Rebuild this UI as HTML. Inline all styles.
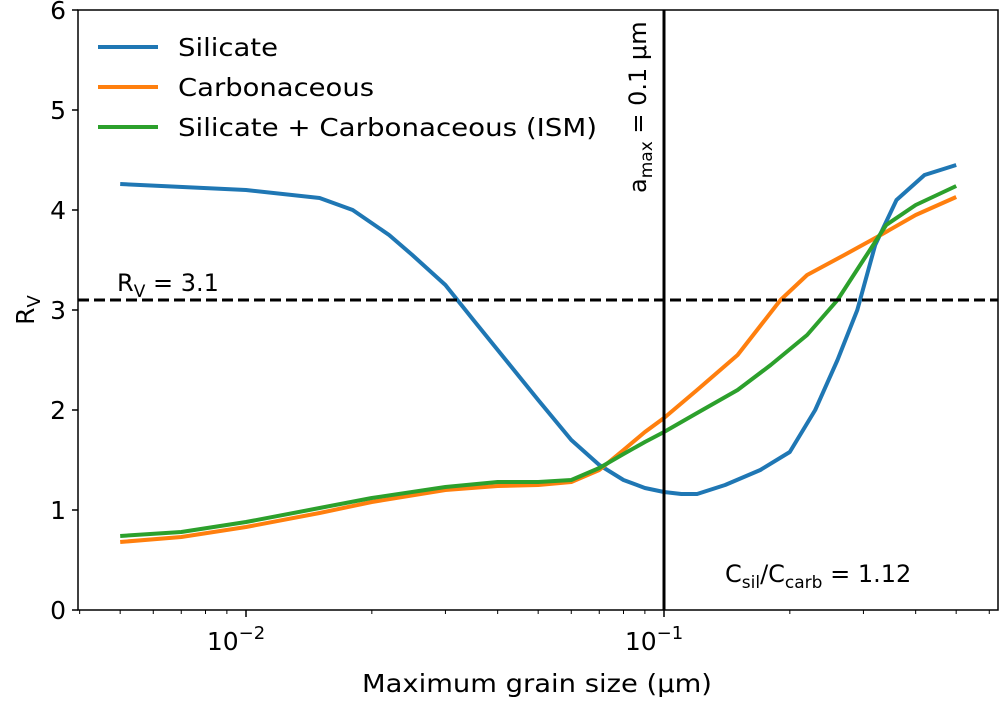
<!DOCTYPE html>
<html><head><meta charset="utf-8"><style>
body{margin:0;background:#fff;}
svg text{font-family:"DejaVu Sans","Liberation Sans",sans-serif;fill:#000;}
</style></head><body>
<svg id="chart" width="1000" height="704" xmlns="http://www.w3.org/2000/svg">
<g id="marks"></g>
<g id="axes"></g>
</svg>
<script>
const xSil=[0.005,0.01,0.015,0.018,0.022,0.025,0.03,0.035,0.04,0.05,0.06,0.07,0.08,0.09,0.1,0.11,0.12,0.14,0.17,0.2,0.23,0.26,0.29,0.32,0.36,0.42,0.5];
const ySil=[4.26,4.2,4.12,4.0,3.75,3.55,3.25,2.9,2.6,2.1,1.7,1.45,1.3,1.22,1.18,1.16,1.16,1.25,1.4,1.58,2.0,2.5,3.0,3.65,4.1,4.35,4.45];
const xCarb=[0.005,0.007,0.01,0.015,0.02,0.03,0.04,0.05,0.06,0.07,0.08,0.09,0.1,0.12,0.15,0.19,0.22,0.27,0.33,0.4,0.5];
const yCarb=[0.68,0.73,0.83,0.97,1.08,1.2,1.24,1.25,1.28,1.4,1.6,1.78,1.92,2.2,2.55,3.1,3.35,3.55,3.75,3.95,4.13];
const xIsm=[0.005,0.007,0.01,0.015,0.02,0.03,0.04,0.05,0.06,0.07,0.08,0.09,0.1,0.12,0.15,0.18,0.22,0.26,0.3,0.34,0.4,0.5];
const yIsm=[0.74,0.78,0.88,1.02,1.12,1.23,1.28,1.28,1.3,1.42,1.56,1.68,1.78,1.97,2.2,2.45,2.75,3.1,3.5,3.85,4.05,4.24];
const yTicks=[0,1,2,3,4,5,6];
const rvRef=3.1, amax=0.1;

const L=78,R=998,T=10,B=610;
const X=v=>664+418*(Math.log10(v)+1);
const Y=v=>B-(v/6)*(B-T);
const NS="http://www.w3.org/2000/svg";
const marks=document.getElementById('marks'), axes=document.getElementById('axes');
function mk(p,tag,at){const e=document.createElementNS(NS,tag);for(const k in at)e.setAttribute(k,at[k]);p.appendChild(e);return e;}

function series(xs,ys,color,name){
  const pts=xs.map((x,i)=>X(x).toFixed(1)+','+Y(ys[i]).toFixed(1)).join(' ');
  const e=mk(marks,'polyline',{points:pts,fill:'none',stroke:color,'stroke-width':4,'stroke-linejoin':'round'});
  
  
}
series(xSil,ySil,'#1f77b4','silicate-line');
series(xCarb,yCarb,'#ff7f0e','carbonaceous-line');
series(xIsm,yIsm,'#2ca02c','ism-line');

let e=mk(marks,'line',{x1:L,x2:R,y1:Y(rvRef),y2:Y(rvRef),stroke:'#000','stroke-width':3,'stroke-dasharray':'11,5'});


e=mk(marks,'line',{x1:X(amax),x2:X(amax),y1:T,y2:B,stroke:'#000','stroke-width':3});



e=mk(axes,'rect',{x:L,y:T,width:R-L,height:B-T,fill:'none',stroke:'#000','stroke-width':1.5});



yTicks.forEach(t=>{
  mk(axes,'line',{x1:L-6,x2:L,y1:Y(t),y2:Y(t),stroke:'#000','stroke-width':1.5});
  const tx=mk(axes,'text',{x:L-12,y:Y(t)+9,'text-anchor':'end','font-size':25});
  tx.textContent=t;
  
  
});
for(let d=-3;d<=-1;d++){for(let m=1;m<=9;m++){const v=m*Math.pow(10,d);const px=X(v);if(px<L||px>R)continue;
  mk(axes,'line',{x1:px,x2:px,y1:B,y2:B+(m==1?7:4),stroke:'#000','stroke-width':m==1?1.5:1});}}
[-2,-1].forEach(d=>{
  const tx=mk(axes,'text',{x:X(Math.pow(10,d))-10,y:B+40,'text-anchor':'middle','font-size':25});
  tx.innerHTML='10<tspan dy="-11" font-size="18">−'+(-d)+'</tspan>';
  
  
});
</script>
<svg style="position:absolute;left:0;top:0" width="1000" height="704" xmlns="http://www.w3.org/2000/svg">
<text x="362" y="692" font-size="25" textLength="350" lengthAdjust="spacingAndGlyphs">Maximum grain size (μm)</text>
<text transform="translate(34,310) rotate(-90)" text-anchor="middle" font-size="25">R<tspan dy="6" font-size="18">V</tspan></text>
<g>
<line x1="98" x2="158" y1="47" y2="47" stroke="#1f77b4" stroke-width="4"/>
<text x="178" y="56" font-size="25" textLength="100" lengthAdjust="spacingAndGlyphs">Silicate</text>
<line x1="98" x2="158" y1="87" y2="87" stroke="#ff7f0e" stroke-width="4"/>
<text x="178" y="96" font-size="25" textLength="196" lengthAdjust="spacingAndGlyphs">Carbonaceous</text>
<line x1="98" x2="158" y1="127" y2="127" stroke="#2ca02c" stroke-width="4"/>
<text x="178" y="136" font-size="25" textLength="419" lengthAdjust="spacingAndGlyphs">Silicate + Carbonaceous (ISM)</text>
</g>
<text x="117" y="291" font-size="24">R<tspan dy="6" font-size="17">V</tspan><tspan dy="-6"> = 3.1</tspan></text>
<text transform="translate(646,193) rotate(-90)" font-size="24">a<tspan dy="6" font-size="17">max</tspan><tspan dy="-6"> = 0.1 μm</tspan></text>
<text x="725" y="582" font-size="24">C<tspan dy="6" font-size="17">sil</tspan><tspan dy="-6">/C</tspan><tspan dy="6" font-size="17">carb</tspan><tspan dy="-6"> = 1.12</tspan></text>
</svg>
</body></html>
